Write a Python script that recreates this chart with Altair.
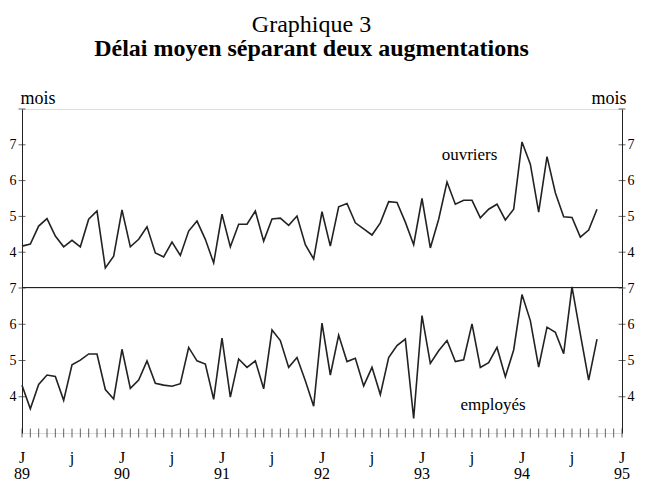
import altair as alt
import pandas as pd

# ---- data (monthly, Jan 1989 .. Oct 1994) ----
start_year = 1989
end_year = 1995
ouvriers = [4.17, 4.23, 4.73, 4.94, 4.45, 4.15, 4.33, 4.15, 4.92, 5.15, 3.56, 3.89,
            5.18, 4.15, 4.36, 4.71, 3.98, 3.87, 4.28, 3.91, 4.59, 4.87, 4.36, 3.70,
            5.06, 4.15, 4.78, 4.78, 5.15, 4.31, 4.93, 4.95, 4.75, 5.01, 4.21, 3.81,
            5.13, 4.17, 5.27, 5.36, 4.82, 4.65, 4.48, 4.82, 5.41, 5.39, 4.84, 4.21,
            5.50, 4.12, 4.92, 5.96, 5.34, 5.45, 5.45, 4.96, 5.20, 5.34, 4.90, 5.20,
            7.08, 6.46, 5.12, 6.67, 5.66, 4.99, 4.97, 4.42, 4.62, 5.20]
employes = [4.32, 3.67, 4.34, 4.60, 4.56, 3.90, 4.88, 5.01, 5.18, 5.18, 4.20, 3.94,
            5.31, 4.23, 4.46, 4.99, 4.37, 4.32, 4.29, 4.36, 5.36, 4.99, 4.90, 3.93,
            5.62, 3.99, 5.04, 4.81, 4.99, 4.22, 5.84, 5.55, 4.81, 5.08, 4.44, 3.74,
            6.03, 4.60, 5.70, 4.97, 5.06, 4.30, 4.81, 4.06, 5.08, 5.41, 5.59, 3.40,
            6.24, 4.92, 5.27, 5.55, 4.97, 5.02, 6.01, 4.81, 4.94, 5.36, 4.55, 5.29,
            6.82, 6.10, 4.82, 5.92, 5.78, 5.19, 7.03, 5.73, 4.46, 5.59]
y_ticks = [4, 5, 6, 7]
top_domain = [3, 8]
bottom_domain = [3, 7]
# x tick labels every 6 months: month letter and year
label_positions = [start_year + k * 0.5 for k in range(13)]
month_labels = ["J", "j"] * 6 + ["J"]
year_labels = ["89", "", "90", "", "91", "", "92", "", "93", "", "94", "", "95"]
annot_top = {"text": ["ouvriers"], "t": [1993.475], "v": [6.71]}
annot_bot = {"text": ["employés"], "t": [1993.71], "v": [3.78]}

SERIF = "Liberation Serif"
INK = "#222222"
W = 600
H_TOP = 179
H_BOT = 145

n = len(ouvriers)
df = pd.DataFrame({
    "t": [start_year + i / 12 for i in range(n)],
    "ouvriers": ouvriers,
    "employes": employes,
})
months_df = pd.DataFrame({"t": [start_year + i / 12 for i in range((end_year - start_year) * 12 + 1)]})
xlab_df = pd.DataFrame({"t": label_positions, "m": month_labels, "y": year_labels})

xscale = alt.Scale(domain=[start_year, end_year], nice=False, zero=False)


def ytick_df(values):
    rows = []
    for v in values:
        for x in (start_year, end_year):
            rows.append({"t": x, "v": v})
    return pd.DataFrame(rows)


def panel(field, domain, height, top, annot):
    yscale = alt.Scale(domain=domain, nice=False, zero=False)
    axis_kw = dict(values=y_ticks, ticks=False, domainColor=INK,
                   labelFont=SERIF, labelFontSize=14, labelColor="black", grid=False)
    title_kw = dict(titleAngle=0, titleBaseline="alphabetic", titleY=-6,
                    titleFont=SERIF, titleFontSize=18, titleFontWeight="normal",
                    titleColor="black")
    if top:
        left_axis = alt.Axis(orient="left", title="mois", titleAlign="left", titleX=-2,
                             labelPadding=6, **title_kw, **axis_kw)
        right_axis = alt.Axis(orient="right", title="mois", titleAlign="right", titleX=4,
                              labelPadding=5, **title_kw, **axis_kw)
        xaxis = None
    else:
        left_axis = alt.Axis(orient="left", title=None, labelPadding=6, **axis_kw)
        right_axis = alt.Axis(orient="right", title=None, labelPadding=5, **axis_kw)
        xaxis = alt.Axis(labels=False, ticks=False, title=None, domainColor=INK, grid=False)

    base = alt.Chart(df)
    line = base.mark_line(color=INK, strokeWidth=1.6, clip=False).encode(
        x=alt.X("t:Q", scale=xscale, axis=xaxis),
        y=alt.Y(f"{field}:Q", scale=yscale, axis=left_axis),
    )
    right = base.mark_line(opacity=0).encode(
        x=alt.X("t:Q", scale=xscale, axis=None),
        y=alt.Y(f"{field}:Q", scale=yscale, axis=right_axis),
    )
    tick_vals = y_ticks + ([domain[1]] if top else [])
    yt = alt.Chart(ytick_df(tick_vals)).mark_tick(
        orient="horizontal", size=7, thickness=1, color=INK).encode(
        x=alt.X("t:Q", scale=xscale, axis=None),
        y=alt.Y("v:Q", scale=yscale, axis=None),
    )
    txt = alt.Chart(pd.DataFrame(annot)).mark_text(
        font=SERIF, fontSize=17, color="black").encode(
        x=alt.X("t:Q", scale=xscale, axis=None),
        y=alt.Y("v:Q", scale=yscale, axis=None),
        text="text:N",
    )
    layers = [line, right, yt, txt]
    if top:
        # heavy separator line at the foot of the upper panel (value 3 = 7 of the lower one)
        sep = alt.Chart(pd.DataFrame({"v": [domain[0]]})).mark_rule(
            color=INK, strokeWidth=2).encode(
            y=alt.Y("v:Q", scale=yscale, axis=None),
        )
        layers.append(sep)
    else:
        xt = alt.Chart(months_df).mark_tick(
            orient="vertical", size=9, thickness=1, color=INK).encode(
            x=alt.X("t:Q", scale=xscale, axis=None),
            y=alt.value(height),
        )
        mlab = alt.Chart(xlab_df).mark_text(
            font=SERIF, fontSize=16, color="black", baseline="alphabetic").encode(
            x=alt.X("t:Q", scale=xscale, axis=None),
            y=alt.value(height + 30),
            text="m:N",
        )
        ylab = alt.Chart(xlab_df).mark_text(
            font=SERIF, fontSize=16, color="black", baseline="alphabetic").encode(
            x=alt.X("t:Q", scale=xscale, axis=None),
            y=alt.value(height + 46),
            text="y:N",
        )
        layers += [xt, mlab, ylab]
    return alt.layer(*layers).resolve_axis(y="independent").properties(width=W, height=height)


top_chart = panel("ouvriers", top_domain, H_TOP, True, annot_top)
bot_chart = panel("employes", bottom_domain, H_BOT, False, annot_bot)

chart = alt.vconcat(top_chart, bot_chart, spacing=0, bounds="flush").properties(
    padding={"top": 4, "left": 0, "right": 0, "bottom": 0},
    title=alt.TitleParams(
        text="Graphique 3",
        subtitle="Délai moyen séparant deux augmentations",
        font=SERIF, fontSize=24, fontWeight="normal", color="black",
        subtitleFont=SERIF, subtitleFontSize=24, subtitleFontWeight="bold",
        subtitleColor="black", subtitlePadding=0, anchor="middle", offset=28, dx=-10,
    ),
).configure_view(stroke=None).configure(background="white")

chart.save("out.html", embed_options={"renderer": "svg", "actions": False})
